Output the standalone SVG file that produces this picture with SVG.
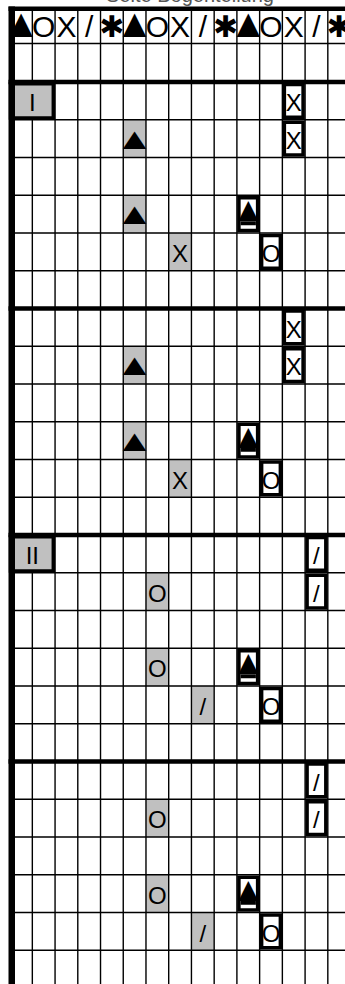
<svg xmlns="http://www.w3.org/2000/svg" width="345" height="984" viewBox="0 0 345 984">
<style>
.gc{fill:#c0c0c0}
.thin{stroke:#000;stroke-width:1.4;fill:none}
.thick{fill:#000}
.box{fill:#fff;stroke:#000;stroke-width:3.5}
.lab{fill:#c0c0c0;stroke:#000;stroke-width:3.5}
.t{font-family:"Liberation Sans","DejaVu Sans",sans-serif;font-size:24px;text-anchor:middle;fill:#000}
.h{font-size:30px}
.ht{font-size:40px}
.gt{font-size:40px}
.tri{font-size:34px}
.title{font-family:"Liberation Sans",sans-serif;font-size:20px;text-anchor:middle;fill:#555}
</style>
<rect width="345" height="984" fill="#fff"/>
<text class="title" x="190" y="1.5">Seite Bogenteilung</text>
<g id="gray-cells">
<rect class="gc" x="123.25" y="119.75" width="22.73" height="37.75"/>
<rect class="gc" x="123.25" y="195.25" width="22.73" height="37.75"/>
<rect class="gc" x="168.71" y="233" width="22.73" height="37.75"/>
<rect class="gc" x="123.25" y="346.25" width="22.73" height="37.75"/>
<rect class="gc" x="123.25" y="421.75" width="22.73" height="37.75"/>
<rect class="gc" x="168.71" y="459.5" width="22.73" height="37.75"/>
<rect class="gc" x="145.98" y="572.75" width="22.73" height="37.75"/>
<rect class="gc" x="145.98" y="648.25" width="22.73" height="37.75"/>
<rect class="gc" x="191.44" y="686" width="22.73" height="37.75"/>
<rect class="gc" x="145.98" y="799.25" width="22.73" height="37.75"/>
<rect class="gc" x="145.98" y="874.75" width="22.73" height="37.75"/>
<rect class="gc" x="191.44" y="912.5" width="22.73" height="37.75"/>
</g>
<g id="grid">
<path class="thin" d="M32.33 8V984M55.06 8V984M77.79 8V984M100.52 8V984M123.25 8V984M145.98 8V984M168.71 8V984M191.44 8V984M214.17 8V984M236.9 8V984M259.63 8V984M282.36 8V984M305.09 8V984M327.82 8V984"/>
<path class="thin" d="M12 43.5H345M12 119.75H345M12 157.5H345M12 195.25H345M12 233H345M12 270.75H345M12 346.25H345M12 384H345M12 421.75H345M12 459.5H345M12 497.25H345M12 572.75H345M12 610.5H345M12 648.25H345M12 686H345M12 723.75H345M12 799.25H345M12 837H345M12 874.75H345M12 912.5H345M12 950.25H345"/>
</g>
<g id="header" class="t h">
<text class="ht" x="20.97" y="37">▲</text><text x="43.7" y="37">O</text><text x="66.43" y="37">X</text><text x="89.16" y="37">/</text><text x="111.89" y="37">✱</text>
<text class="ht" x="134.62" y="37">▲</text><text x="157.35" y="37">O</text><text x="180.08" y="37">X</text><text x="202.81" y="37">/</text><text x="225.54" y="37">✱</text>
<text class="ht" x="248.27" y="37">▲</text><text x="271" y="37">O</text><text x="293.73" y="37">X</text><text x="316.46" y="37">/</text><text x="339.19" y="37">✱</text>
</g>
<g id="label-I"><rect class="lab" x="10.5" y="83.75" width="42.81" height="34.25"/><text class="t" x="32.3" y="111">I</text></g>
<g id="label-II"><rect class="lab" x="10.5" y="536.75" width="42.81" height="34.25"/><text class="t" x="32.3" y="564">II</text></g>
<g id="section-I">
<g id="n-I-0-12"><rect class="box" x="284.36" y="84.5" width="18.73" height="32.75"/><text class="t" x="293.72" y="111">X</text></g>
<g id="n-I-1-5"><text class="t gt" transform="translate(134.6,148.5) scale(1,0.75)">▲</text></g>
<g id="n-I-1-12"><rect class="box" x="284.36" y="122.25" width="18.73" height="32.75"/><text class="t" x="293.72" y="148.75">X</text></g>
<g id="n-I-3-5"><text class="t gt" transform="translate(134.6,224) scale(1,0.75)">▲</text></g>
<g id="n-I-3-10"><rect class="box" x="238.9" y="197.75" width="18.73" height="32.75"/><text class="t tri" x="248.27" y="221.25">▲</text><rect class="thick" x="240.65" y="221.25" width="15.23" height="4"/></g>
<g id="n-I-4-7"><text class="t" x="180.08" y="262">X</text></g>
<g id="n-I-4-11"><rect class="box" x="261.63" y="235.5" width="18.73" height="32.75"/><text class="t" x="271" y="262">O</text></g>
</g>
<g id="section-I2">
<g id="n-I2-0-12"><rect class="box" x="284.36" y="311" width="18.73" height="32.75"/><text class="t" x="293.72" y="337.5">X</text></g>
<g id="n-I2-1-5"><text class="t gt" transform="translate(134.6,375) scale(1,0.75)">▲</text></g>
<g id="n-I2-1-12"><rect class="box" x="284.36" y="348.75" width="18.73" height="32.75"/><text class="t" x="293.72" y="375.25">X</text></g>
<g id="n-I2-3-5"><text class="t gt" transform="translate(134.6,450.5) scale(1,0.75)">▲</text></g>
<g id="n-I2-3-10"><rect class="box" x="238.9" y="424.25" width="18.73" height="32.75"/><text class="t tri" x="248.27" y="447.75">▲</text><rect class="thick" x="240.65" y="447.75" width="15.23" height="4"/></g>
<g id="n-I2-4-7"><text class="t" x="180.08" y="488.5">X</text></g>
<g id="n-I2-4-11"><rect class="box" x="261.63" y="462" width="18.73" height="32.75"/><text class="t" x="271" y="488.5">O</text></g>
</g>
<g id="section-II">
<g id="n-II-0-13"><rect class="box" x="307.09" y="537.5" width="18.73" height="32.75"/><text class="t" x="316.45" y="564">/</text></g>
<g id="n-II-1-6"><text class="t" x="157.35" y="601.75">O</text></g>
<g id="n-II-1-13"><rect class="box" x="307.09" y="575.25" width="18.73" height="32.75"/><text class="t" x="316.45" y="601.75">/</text></g>
<g id="n-II-3-6"><text class="t" x="157.35" y="677.25">O</text></g>
<g id="n-II-3-10"><rect class="box" x="238.9" y="650.75" width="18.73" height="32.75"/><text class="t tri" x="248.27" y="674.25">▲</text><rect class="thick" x="240.65" y="674.25" width="15.23" height="4"/></g>
<g id="n-II-4-8"><text class="t" x="202.8" y="715">/</text></g>
<g id="n-II-4-11"><rect class="box" x="261.63" y="688.5" width="18.73" height="32.75"/><text class="t" x="271" y="715">O</text></g>
</g>
<g id="section-II2">
<g id="n-II2-0-13"><rect class="box" x="307.09" y="764" width="18.73" height="32.75"/><text class="t" x="316.45" y="790.5">/</text></g>
<g id="n-II2-1-6"><text class="t" x="157.35" y="828.25">O</text></g>
<g id="n-II2-1-13"><rect class="box" x="307.09" y="801.75" width="18.73" height="32.75"/><text class="t" x="316.45" y="828.25">/</text></g>
<g id="n-II2-3-6"><text class="t" x="157.35" y="903.75">O</text></g>
<g id="n-II2-3-10"><rect class="box" x="238.9" y="877.25" width="18.73" height="32.75"/><text class="t tri" x="248.27" y="900.75">▲</text><rect class="thick" x="240.65" y="900.75" width="15.23" height="4"/></g>
<g id="n-II2-4-8"><text class="t" x="202.8" y="941.5">/</text></g>
<g id="n-II2-4-11"><rect class="box" x="261.63" y="915" width="18.73" height="32.75"/><text class="t" x="271" y="941.5">O</text></g>
</g>
<g id="thick-lines">
<rect class="thick" x="8.5" y="6.5" width="336.5" height="4.5"/>
<rect class="thick" x="8.5" y="79.75" width="336.5" height="4.5"/>
<rect class="thick" x="8.5" y="306.25" width="336.5" height="4.5"/>
<rect class="thick" x="8.5" y="532.75" width="336.5" height="4.5"/>
<rect class="thick" x="8.5" y="759.25" width="336.5" height="4.5"/>
<rect class="thick" x="8.5" y="6.5" width="6.5" height="977.5"/>
</g>
</svg>
